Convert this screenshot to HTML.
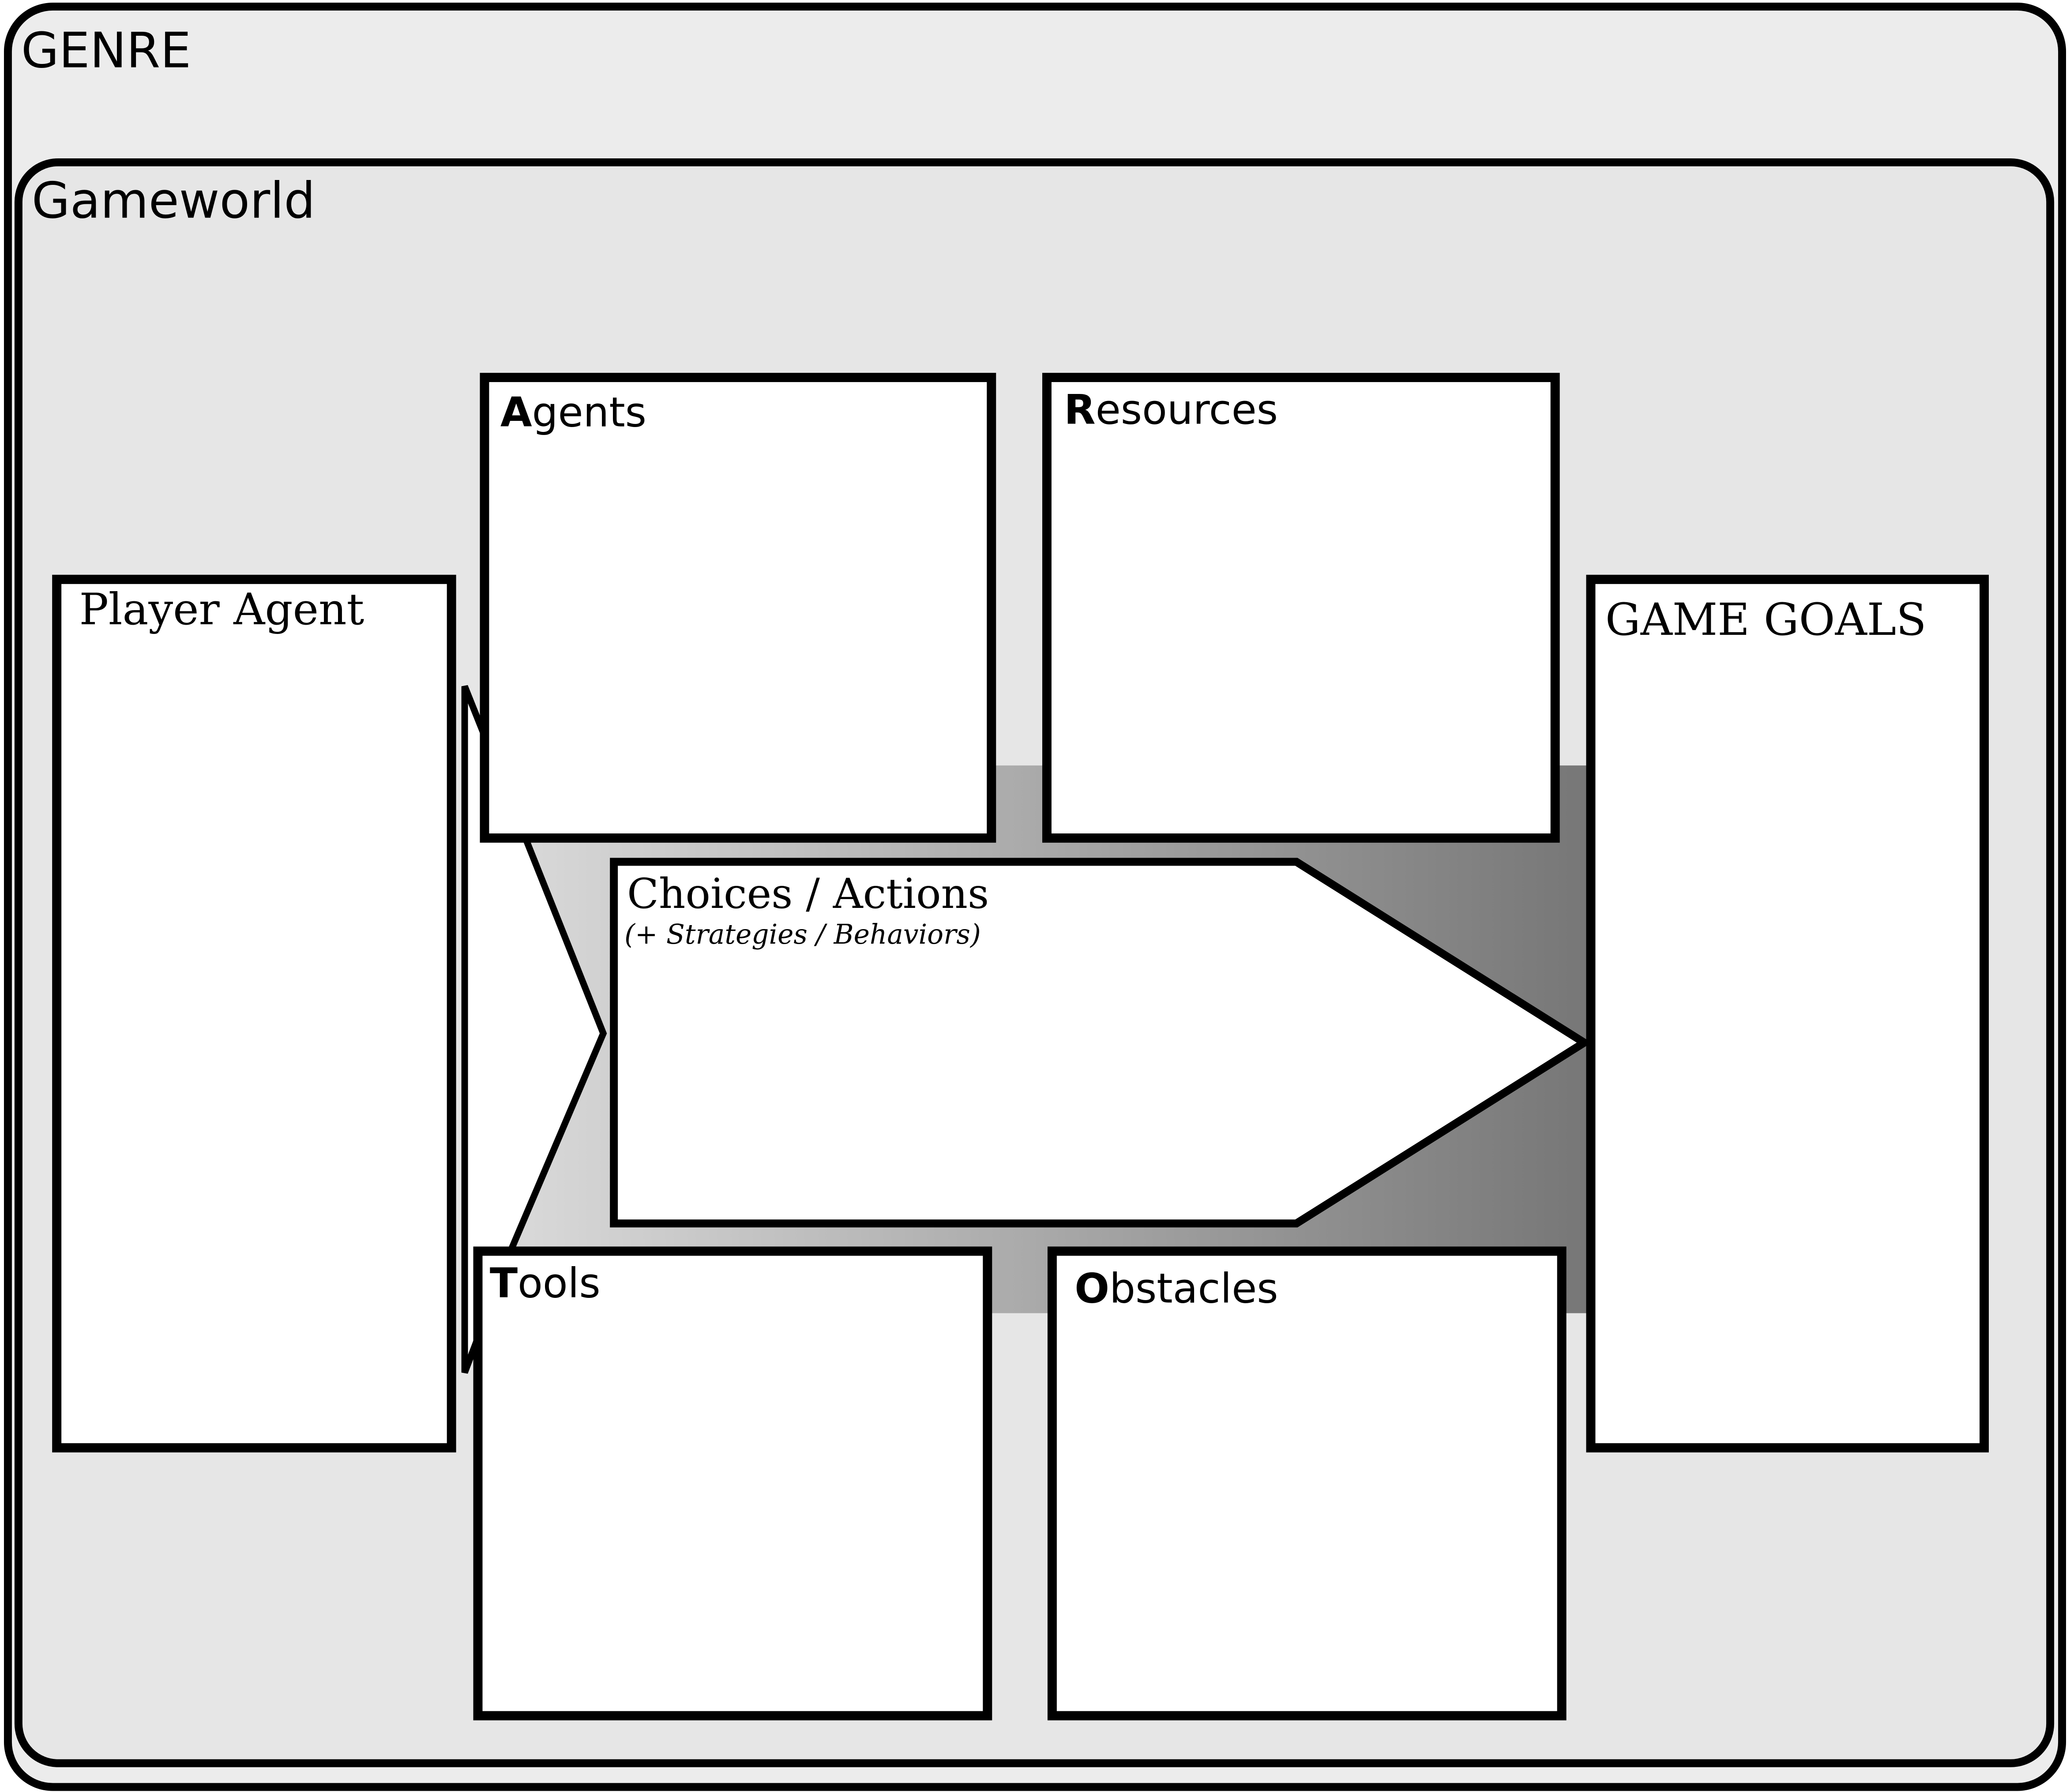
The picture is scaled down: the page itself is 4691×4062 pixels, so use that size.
<!DOCTYPE html>
<html><head><meta charset="utf-8"><style>html,body{margin:0;padding:0;background:#fff}svg{display:block}</style></head>
<body>
<svg width="4691" height="4062" viewBox="0 0 1568 1357.8" preserveAspectRatio="none" xmlns="http://www.w3.org/2000/svg">
<defs>
<linearGradient id="g" x1="400" y1="0" x2="1200" y2="0" gradientUnits="userSpaceOnUse">
<stop offset="0" stop-color="#d8d8d8"/><stop offset="1" stop-color="#777"/></linearGradient>
</defs>
<rect x="6" y="5" width="1556" height="1349" rx="34" fill="#ececec" stroke="#000" stroke-width="6"/>
<rect x="14" y="123" width="1539" height="1213" rx="30" fill="#e6e6e6" stroke="#000" stroke-width="6"/>
<text x="16" y="51" font-family="DejaVu Sans, Liberation Sans, sans-serif" font-size="37">GENRE</text>
<text x="24" y="165" font-family="DejaVu Sans, Liberation Sans, sans-serif" font-size="37.5">Gameworld</text>
<rect x="370" y="580" width="835" height="415" fill="url(#g)"/>
<polygon points="352,520 398,635 457,783 388,945 352,1040" fill="#fff" stroke="#000" stroke-width="5"/>
<polygon points="465,653 982,653 1200,790 982,927 465,927" fill="#fff" stroke="#000" stroke-width="6"/>
<text x="475" y="688" font-family="DejaVu Serif, Liberation Serif, serif" font-size="31.4">Choices / Actions</text>
<text x="473" y="715" font-family="DejaVu Serif, Liberation Serif, serif" font-size="20.5" font-style="italic">(+ Strategies / Behaviors)</text>
<g fill="#fff" stroke="#000" stroke-width="7">
<rect x="43" y="439" width="299" height="658"/>
<rect x="367" y="286" width="384" height="349"/>
<rect x="793" y="286" width="385" height="349"/>
<rect x="1205" y="439" width="298" height="658"/>
<rect x="362" y="948" width="386" height="352"/>
<rect x="797" y="948" width="386" height="352"/>
</g>
<text x="60" y="473" font-family="DejaVu Serif, Liberation Serif, serif" font-size="33">Player Agent</text>
<text x="1216" y="481" font-family="DejaVu Serif, Liberation Serif, serif" font-size="33.4">GAME GOALS</text>
<g font-family="DejaVu Sans, Liberation Sans, sans-serif" font-size="31">
<text x="379" y="323"><tspan font-weight="bold">A</tspan>gents</text>
<text x="806" y="321"><tspan font-weight="bold">R</tspan>esources</text>
<text x="371" y="983"><tspan font-weight="bold">T</tspan>ools</text>
<text x="814" y="987"><tspan font-weight="bold">O</tspan>bstacles</text>
</g>
</svg>
</body></html>
